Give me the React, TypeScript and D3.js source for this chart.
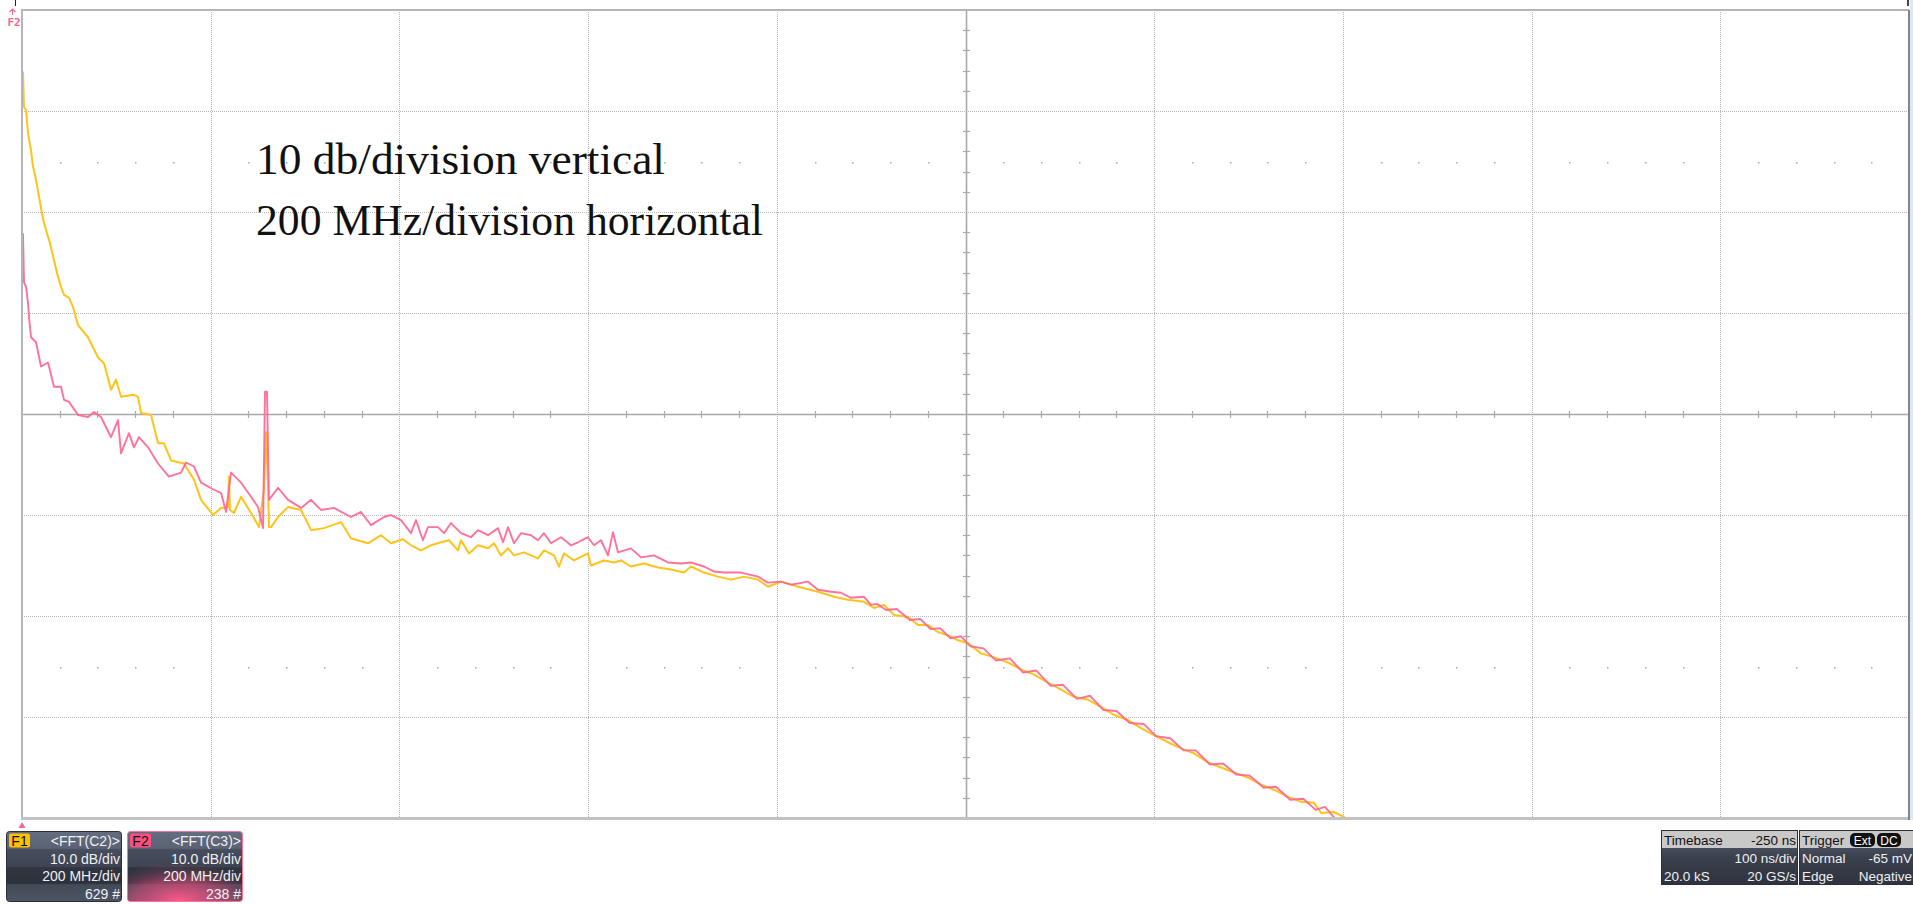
import React, { FC } from 'react';
import * as d3 from 'd3';

type Pt = [number, number]; // [MHz, dB]

// F1 = FFT(C2), yellow
const f1Points: Pt[] = [
  [0, -6.1], [1, -9.6], [3.2, -9.9], [5.3, -12.2], [8.5, -13.9], [10.6, -15.5], [13.8, -16.8],
  [17, -18.5], [20.1, -20.1], [22.3, -21.1], [25.4, -22.1], [28.6, -23.1], [32.9, -24.8],
  [37.1, -26.4], [40.3, -27.4], [43.5, -28.2], [48.8, -28.5], [53, -29.4], [56.2, -30.5],
  [58.3, -31.2], [68.9, -32.4], [79.5, -34.4], [85.9, -35], [93.3, -37.6], [98.6, -36.6],
  [103.9, -38.3], [117.6, -38.1], [121.9, -38.3], [125.1, -39.9], [135.7, -40.1], [143.1, -42.9],
  [149.4, -42.9], [156.9, -44.6], [170.6, -44.9], [181.2, -46.5], [188.7, -48.5], [201.4, -50],
  [209.9, -49.3], [217.3, -49.2], [218.3, -46.2], [219.4, -49.5], [223.6, -49.8], [231.1, -48.2],
  [241.7, -49.8], [250.1, -51.2], [255.4, -47.5], [257.6, -41.8], [259.7, -47], [260.7, -51.2],
  [262.9, -51.2], [270.3, -50.2], [280.9, -49.2], [294.7, -49.5], [305.3, -51.5], [319, -51.3],
  [337, -50.7], [347.6, -52.3], [365.7, -52.8], [379.4, -52], [390, -52.8], [402.8, -52.4],
  [411.2, -53], [421.8, -53.5], [432.4, -53], [443, -52.7], [451.5, -52.5], [461.1, -53.5],
  [464.2, -52.5], [472.7, -53.8], [482.3, -53], [492.9, -53.3], [499.2, -52.8], [506.6, -54],
  [514.1, -53.3], [520.4, -54], [531, -53.7], [545.8, -54.3], [552.2, -53.5], [562.8, -54],
  [568.1, -55.1], [573.4, -53.8], [584, -54.5], [598.8, -53.8], [602, -55], [615.8, -54.5],
  [626.4, -54.7], [633.8, -54.5], [644.4, -55.1], [658.2, -54.8], [673, -55.2], [686.8, -55.4],
  [700.6, -55.7], [708, -55.1], [721.8, -55.7], [736.6, -56.1], [750.4, -56.4], [764.2, -56.1],
  [779, -56.4], [789.6, -57.1], [803.4, -56.6], [821.4, -57.1], [842.6, -57.6], [859.6, -58.1],
  [874.4, -58.4], [891.4, -58.6], [902, -59.2], [912.6, -58.9], [923.2, -59.9], [938, -60.1],
  [948.6, -60.9], [959.2, -60.9], [969.8, -61.6], [980.4, -61.9], [991, -62.4], [1001.6, -62.7],
  [1015.4, -63.7], [1029.2, -64.1], [1044, -64.6], [1057.8, -65.3], [1071.6, -65.8],
  [1086.4, -66.6], [1100.2, -67.3], [1114, -68], [1128.8, -68.3], [1142.6, -69], [1156.4, -69.8],
  [1171.2, -70.3], [1185, -71.1], [1198.7, -71.8], [1213.6, -72.5], [1227.4, -73.1],
  [1241.1, -73.6], [1256, -74.5], [1269.8, -75], [1283.5, -75.5], [1298.4, -76], [1312.2, -76.7],
  [1325.9, -77.2], [1340.8, -77.9], [1354.6, -78.4], [1368.3, -78.5], [1375.8, -79.5],
  [1389.5, -79.4], [1400.1, -79.9], [1410, -80.6],
];

// F2 = FFT(C3), pink
const f2Points: Pt[] = [
  [0, -22.1], [1.1, -27], [3.2, -27.4], [5.3, -29], [6.4, -30.4], [8.5, -32.4], [13.8, -32.9],
  [19.1, -35.3], [26.5, -34.9], [32.9, -37.3], [40.3, -37.3], [43.5, -38.6], [48.8, -38.8],
  [58.3, -40.1], [68.9, -40.3], [75.3, -39.8], [82.7, -40.3], [93.3, -42.3], [100.7, -40.6],
  [103.9, -43.9], [112.3, -41.9], [117.6, -43.3], [122.9, -42.3], [132.5, -43.3], [143.1, -44.9],
  [154.7, -46.2], [167.5, -45.8], [172.8, -44.8], [181.2, -45.2], [188.7, -46.8], [202.4, -47.5],
  [209.9, -47.8], [215.2, -49.7], [220.5, -45.8], [231.1, -46.8], [241.7, -48.2], [249.1, -49.2],
  [254.4, -51.3], [256.5, -37.8], [258.6, -37.8], [260.7, -48.5], [270.3, -47.3], [280.9, -48.5],
  [294.7, -49.3], [305.3, -48.5], [315.8, -49.5], [329.6, -49.3], [347.6, -50.2], [358.2, -49.7],
  [368.8, -51], [382.6, -50.2], [390, -50], [400.6, -50.5], [411.2, -51.8], [416.5, -50.5],
  [423.9, -52.5], [429.2, -51.2], [439.8, -51.2], [446.2, -51.8], [453.6, -50.8], [464.2, -51.8],
  [474.8, -52.2], [482.3, -51.5], [492.9, -52], [503.5, -51.3], [508.8, -52.7], [514.1, -51.2],
  [520.4, -52.8], [527.8, -51.8], [538.4, -52], [545.8, -52.5], [552.2, -51.8], [559.6, -52.8],
  [570.2, -52.2], [580.8, -53], [588.2, -52.7], [598.8, -52.2], [605.2, -53], [612.6, -52.5],
  [620, -54], [625.3, -51.7], [630.6, -53.7], [644.4, -53.3], [655, -54.2], [668.8, -54],
  [683.6, -54.7], [697.4, -54.8], [708, -54.7], [721.8, -55.1], [732.4, -55.6], [743, -55.7],
  [761, -55.7], [779, -56.1], [789.6, -56.7], [803.4, -56.6], [814, -56.9], [832, -56.6],
  [842.6, -57.4], [856.4, -57.6], [867, -57.7], [877.6, -58.2], [891.4, -58.1], [898.8, -58.9],
  [905, -58.8], [915, -59.4], [926, -59.3], [940, -60.4], [951, -60.3], [962, -61.3], [972, -61.2],
  [983, -62.2], [994, -62], [1004, -63], [1018, -63.2], [1031, -64.4], [1046, -64.2], [1060, -65.6],
  [1074, -65.4], [1089, -66.9], [1102, -66.8], [1117, -68.2], [1131, -67.9], [1145, -69.3],
  [1159, -69.4], [1173, -70.6], [1188, -70.7], [1201, -71.9], [1216, -72.1], [1230, -73.3],
  [1243, -73.3], [1258, -74.7], [1272, -74.6], [1286, -75.7], [1300, -75.8], [1315, -77],
  [1328, -76.9], [1343, -78.2], [1357, -78.1], [1370, -79.2], [1380, -78.9], [1392, -80.2],
  [1400, -80.5],
];

const noteLines = ['10 db/division vertical', '200 MHz/division horizontal'];
const noteWidths = [409, 507];
const f1Box = ['<FFT(C2)>', '10.0 dB/div', '200 MHz/div', '629 #'];
const f2Box = ['<FFT(C3)>', '10.0 dB/div', '200 MHz/div', '238 #'];
const timebaseRows = [['Timebase', '-250 ns'], ['', '100 ns/div'], ['20.0 kS', '20 GS/s']];
const triggerRows = [['Trigger', ''], ['Normal', '-65 mV'], ['Edge', 'Negative']];

const W = 1913;
const H = 904;
const YELLOW = '#ffc31a';
const PINK = '#ff6690';
const SANS = '"Liberation Sans", Arial, sans-serif';

const App: FC = () => (
  <div
    style={{ position: 'absolute', left: 0, top: 0 }}
    ref={(elem) => {
      if (!elem) return;
      elem.innerHTML = '';
      elem.appendChild(chart() as SVGSVGElement);
    }}
  />
);

const chart = () => {
  const plot = { left: 22, right: 1909, top: 10, bottom: 818 };
  const x = d3.scaleLinear().domain([0, 2000]).range([plot.left, plot.right]);
  const y = d3.scaleLinear().domain([-80, 0]).range([plot.bottom, plot.top]);
  const px = (v: number) => Math.round(v) + 0.5;

  const svg = d3
    .create('svg')
    .attr('width', W)
    .attr('height', H)
    .attr('viewBox', `0 0 ${W} ${H}`)
    .style('display', 'block');

  svg.append('rect').attr('width', W).attr('height', H).attr('fill', '#fff');

  const defs = svg.append('defs');
  defs
    .append('clipPath')
    .attr('id', 'plot-clip')
    .append('rect')
    .attr('x', plot.left)
    .attr('y', plot.top)
    .attr('width', plot.right - plot.left)
    .attr('height', plot.bottom - plot.top);

  // grid
  const grid = svg
    .append('g')
    .attr('stroke', '#b8b8b8')
    .attr('stroke-width', 1)
    .attr('stroke-dasharray', '1,1');
  grid
    .selectAll('line.v')
    .data(d3.range(200, 2000, 200).filter((d) => d !== 1000))
    .join('line')
    .attr('x1', (d) => px(x(d)))
    .attr('x2', (d) => px(x(d)))
    .attr('y1', plot.top)
    .attr('y2', plot.bottom);
  grid
    .selectAll('line.h')
    .data(d3.range(-70, 0, 10).filter((d) => d !== -40))
    .join('line')
    .attr('class', 'h')
    .attr('y1', (d) => px(y(d)))
    .attr('y2', (d) => px(y(d)))
    .attr('x1', plot.left)
    .attr('x2', plot.right);

  // dot rows
  const dotX = d3.range(40, 2000, 40).filter((d) => d % 200 !== 0);
  svg
    .append('g')
    .attr('fill', '#a8a8a8')
    .selectAll('rect')
    .data(d3.cross([-15, -65], dotX))
    .join('rect')
    .attr('x', (d) => Math.round(x(d[1])))
    .attr('y', (d) => Math.round(y(d[0])))
    .attr('width', 1.5)
    .attr('height', 1.5);

  // center axes with minor ticks
  const axes = svg.append('g').attr('stroke', '#a9a9a9');
  axes
    .append('line')
    .attr('x1', px(x(1000)))
    .attr('x2', px(x(1000)))
    .attr('y1', plot.top)
    .attr('y2', plot.bottom)
    .attr('stroke-width', 1.6);
  axes
    .append('line')
    .attr('y1', px(y(-40)))
    .attr('y2', px(y(-40)))
    .attr('x1', plot.left)
    .attr('x2', plot.right)
    .attr('stroke-width', 1.6);
  axes
    .selectAll('line.ty')
    .data(d3.range(-78, 0, 2).filter((d) => d % 10 !== 0))
    .join('line')
    .attr('class', 'ty')
    .attr('x1', px(x(1000)) - 3.5)
    .attr('x2', px(x(1000)) + 3.5)
    .attr('y1', (d) => px(y(d)))
    .attr('y2', (d) => px(y(d)))
    .attr('stroke-width', 1.2);
  axes
    .selectAll('line.tx')
    .data(d3.range(40, 2000, 40).filter((d) => d % 200 !== 0))
    .join('line')
    .attr('class', 'tx')
    .attr('y1', px(y(-40)) - 3.5)
    .attr('y2', px(y(-40)) + 3.5)
    .attr('x1', (d) => px(x(d)))
    .attr('x2', (d) => px(x(d)))
    .attr('stroke-width', 1.2);

  // traces
  const line = d3
    .line<Pt>()
    .x((d) => x(d[0]) + 1)
    .y((d) => y(d[1]));
  const traces = svg.append('g').attr('clip-path', 'url(#plot-clip)').attr('fill', 'none');
  traces
    .append('path')
    .attr('d', line(f1Points))
    .attr('stroke', YELLOW)
    .attr('stroke-width', 2)
    .attr('stroke-linejoin', 'round');
  traces
    .append('path')
    .attr('d', line(f2Points))
    .attr('stroke', PINK)
    .attr('stroke-width', 1.9)
    .attr('stroke-opacity', 0.92)
    .attr('stroke-linejoin', 'round');

  // frame
  const frame = svg.append('g').attr('fill', 'none');
  frame
    .append('line')
    .attr('x1', plot.left - 1)
    .attr('x2', plot.right)
    .attr('y1', plot.top)
    .attr('y2', plot.top)
    .attr('stroke', '#b5b5b5')
    .attr('stroke-width', 2);
  frame
    .append('line')
    .attr('x1', plot.left)
    .attr('x2', plot.left)
    .attr('y1', plot.top)
    .attr('y2', plot.bottom)
    .attr('stroke', '#b5b5b5')
    .attr('stroke-width', 2);
  frame
    .append('line')
    .attr('x1', plot.left - 1)
    .attr('x2', plot.right)
    .attr('y1', plot.bottom + 0.5)
    .attr('y2', plot.bottom + 0.5)
    .attr('stroke', '#c2c2c2')
    .attr('stroke-width', 3);
  frame
    .append('line')
    .attr('x1', plot.right)
    .attr('x2', plot.right)
    .attr('y1', plot.top)
    .attr('y2', plot.bottom + 2)
    .attr('stroke', '#858585')
    .attr('stroke-width', 2);
  svg
    .append('rect')
    .attr('x', plot.right + 1)
    .attr('y', 0)
    .attr('width', W - plot.right - 1)
    .attr('height', plot.bottom + 2)
    .attr('fill', '#dde8f4');

  // cursor marks along the top edge
  svg.append('rect').attr('x', 15).attr('y', 0).attr('width', 1).attr('height', 6).attr('fill', '#222');
  svg.append('rect').attr('x', 1907).attr('y', 0).attr('width', 2).attr('height', 6).attr('fill', '#444');

  // F2 reference marker
  const mk = svg.append('g').attr('stroke', PINK).attr('fill', 'none').attr('stroke-width', 1.2);
  mk.append('line').attr('x1', 12.5).attr('x2', 12.5).attr('y1', 9).attr('y2', 15);
  mk.append('path').attr('d', 'M9.5,12 L12.5,9 L15.5,12');
  svg
    .append('text')
    .attr('x', 14)
    .attr('y', 26)
    .attr('text-anchor', 'middle')
    .attr('font-family', '"DejaVu Sans Mono", monospace')
    .attr('font-size', 11)
    .attr('font-weight', 'bold')
    .attr('fill', PINK)
    .text('F2');
  svg
    .append('path')
    .attr('d', `M${plot.left - 3.5},828 L${plot.left},822 L${plot.left + 3.5},828 Z`)
    .attr('fill', PINK);

  // annotation
  svg
    .append('g')
    .attr('font-family', '"Liberation Serif", "Times New Roman", serif')
    .attr('font-size', 44)
    .attr('fill', '#111')
    .selectAll('text')
    .data(noteLines)
    .join('text')
    .attr('x', 256)
    .attr('y', (_, i) => 174 + i * 61)
    .attr('textLength', (_, i) => noteWidths[i])
    .attr('lengthAdjust', 'spacingAndGlyphs')
    .text((d) => d);

  // gradients for the info boxes
  const slate = defs.append('linearGradient').attr('id', 'slate').attr('x1', 0).attr('x2', 0).attr('y1', 0).attr('y2', 1);
  [
    [0, '#646d7f'], [0.24, '#5a6274'], [0.26, '#464d5d'], [0.5, '#3e4453'],
    [0.52, '#30353f'], [0.74, '#2c313b'], [0.76, '#434a58'], [1, '#4c5362'],
  ].forEach(([o, c]) => slate.append('stop').attr('offset', o).attr('stop-color', c as string));
  const glow = defs.append('radialGradient').attr('id', 'glow').attr('cx', 0.45).attr('cy', 1).attr('r', 0.75);
  glow.append('stop').attr('offset', 0).attr('stop-color', '#ff5a8a').attr('stop-opacity', 1);
  glow.append('stop').attr('offset', 0.55).attr('stop-color', '#d04a76').attr('stop-opacity', 0.6);
  glow.append('stop').attr('offset', 1).attr('stop-color', '#7a3a58').attr('stop-opacity', 0);
  const dark = defs.append('linearGradient').attr('id', 'dark').attr('x1', 0).attr('x2', 0).attr('y1', 0).attr('y2', 1);
  [
    [0, '#5d6678'], [0.5, '#3a404d'], [1, '#2e333e'],
  ].forEach(([o, c]) => dark.append('stop').attr('offset', o).attr('stop-color', c as string));

  const mathBox = (bx: number, label: string, color: string, rows: string[], border: string, pink: boolean) => {
    const g = svg.append('g').attr('font-family', SANS).attr('font-size', 14);
    g.append('rect')
      .attr('x', bx + 0.5)
      .attr('y', 831.5)
      .attr('width', 115)
      .attr('height', 70)
      .attr('rx', 3)
      .attr('fill', 'url(#slate)')
      .attr('stroke', border);
    if (pink) {
      g.append('rect')
        .attr('x', bx + 1)
        .attr('y', 850)
        .attr('width', 114)
        .attr('height', 51)
        .attr('rx', 3)
        .attr('fill', 'url(#glow)');
    }
    g.append('rect')
      .attr('x', bx + 3)
      .attr('y', 833.5)
      .attr('width', 21)
      .attr('height', 14)
      .attr('rx', 2)
      .attr('fill', color);
    g.append('text').attr('x', bx + 13.5).attr('y', 846).attr('text-anchor', 'middle').attr('fill', '#111').text(label);
    g.selectAll('text.row')
      .data(rows)
      .join('text')
      .attr('class', 'row')
      .attr('x', bx + 114)
      .attr('y', (_, i) => 846 + i * 17.6)
      .attr('text-anchor', 'end')
      .attr('fill', '#eef0f4')
      .text((d) => d);
  };
  mathBox(6, 'F1', '#ffc000', f1Box, '#2a2f38', false);
  mathBox(127, 'F2', '#ff4f7f', f2Box, '#ff7098', true);

  const infoBox = (bx: number, w: number, rows: string[][], badges: boolean) => {
    const g = svg.append('g').attr('font-family', SANS).attr('font-size', 13.5);
    g.append('rect')
      .attr('x', bx + 0.5)
      .attr('y', 830.5)
      .attr('width', w)
      .attr('height', 54)
      .attr('fill', 'url(#dark)')
      .attr('stroke', '#2a2f38');
    g.append('rect')
      .attr('x', bx + 1)
      .attr('y', 831)
      .attr('width', w - 1)
      .attr('height', 17)
      .attr('fill', '#c9c9c9');
    rows.forEach(([l, r], i) => {
      const base = 845 + i * 18;
      const fill = i === 0 ? '#111' : '#eef0f4';
      g.append('text').attr('x', bx + 3).attr('y', base).attr('fill', fill).text(l);
      g.append('text')
        .attr('x', Math.min(bx + w - 1, W - 1))
        .attr('y', base)
        .attr('text-anchor', 'end')
        .attr('fill', fill)
        .text(r);
    });
    if (badges) {
      [['Ext', bx + 51, 25], ['DC', bx + 78, 24]].forEach(([t, bx2, bw]) => {
        g.append('rect')
          .attr('x', bx2 as number)
          .attr('y', 833)
          .attr('width', bw as number)
          .attr('height', 14)
          .attr('rx', 5)
          .attr('fill', '#111');
        g.append('text')
          .attr('x', (bx2 as number) + (bw as number) / 2)
          .attr('y', 845)
          .attr('text-anchor', 'middle')
          .attr('font-size', 12)
          .attr('fill', '#fff')
          .text(t as string);
      });
    }
  };
  infoBox(1661, 136, timebaseRows, false);
  infoBox(1799, 120, triggerRows, true);

  return svg.node();
};

export default App;
